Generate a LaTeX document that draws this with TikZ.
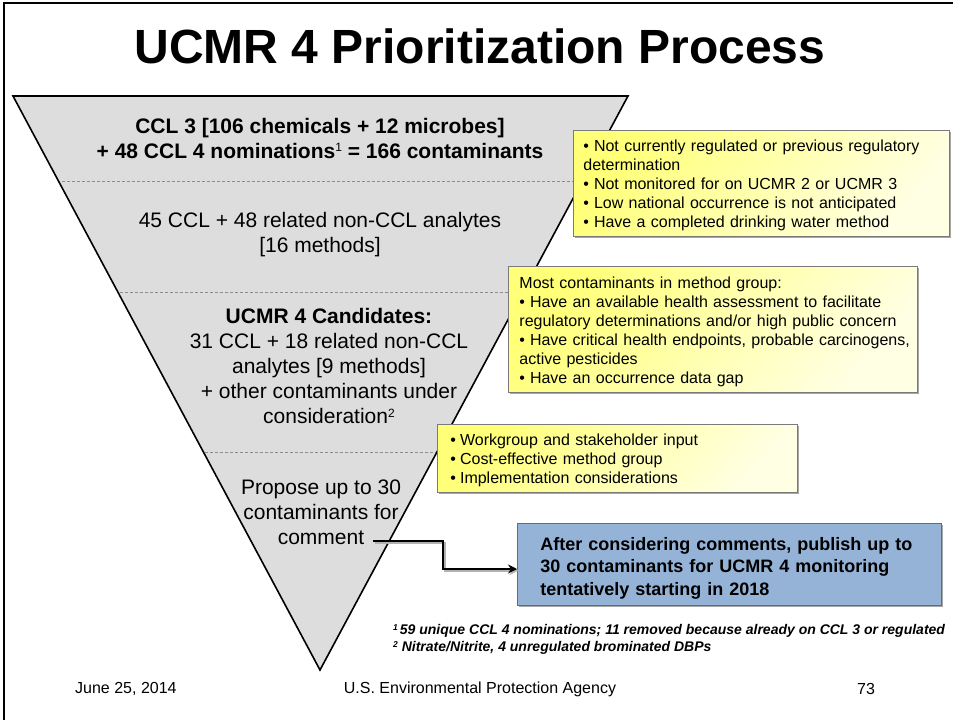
\documentclass[tikz,border=0pt]{standalone}
\usepackage{fontspec}
\setmainfont{Liberation Sans}
\usetikzlibrary{shadows,arrows.meta}
\definecolor{funnelgray}{HTML}{DDDDDD}
\definecolor{dashgray}{HTML}{8C8C8C}
\definecolor{ytop}{HTML}{FFFF78}
\definecolor{ybot}{HTML}{FFFFE4}
\definecolor{yborder}{HTML}{7A7A7A}
\definecolor{bluefill}{HTML}{95B3D7}
\definecolor{blueborder}{HTML}{5A6E8C}
\tikzset{
  maintext/.style={font=\fontsize{21}{25}\selectfont, align=center, inner sep=0pt},
  notebox/.style={draw=yborder, line width=0.9pt, top color=ytop, bottom color=ybot, shading angle=50,
    drop shadow={shadow xshift=2pt, shadow yshift=-2pt, opacity=0.35, fill=black},
    anchor=north west, align=left, font=\fontsize{16}{19}\selectfont, inner sep=0pt},
  resultbox/.style={draw=blueborder, line width=0.9pt, fill=bluefill,
    drop shadow={shadow xshift=2pt, shadow yshift=-2pt, opacity=0.35, fill=black},
    anchor=north west, align=left, font=\bfseries\fontsize{18}{22.5}\selectfont, inner sep=0pt},
  divider/.style={draw=dashgray, line width=0.8pt, dash pattern=on 3pt off 2pt},
  conn/.style={line width=2pt, -{Stealth[length=9pt,width=9pt,inset=3pt]}},
  connshadow/.style={line width=2pt, draw=black!30, -{Stealth[length=9pt,width=9pt,inset=3pt]}},
  footnote/.style={font=\bfseries\itshape\fontsize{14}{17}\selectfont, anchor=west, inner sep=0pt},
  footer/.style={font=\fontsize{16}{19}\selectfont, inner sep=0pt}
}
\newcommand{\bul}{\textbullet\hspace{5pt}}
\newcommand{\supbig}[1]{\raisebox{6.5pt}{\fontsize{12}{12}\selectfont\mdseries #1}}
\newcommand{\supsmall}[1]{\raisebox{4.5pt}{\fontsize{8.5}{8.5}\selectfont #1}}
\begin{document}
\begin{tikzpicture}[x=1pt,y=-1pt]
\useasboundingbox (0,0) rectangle (953,720);
\fill[white] (0,0) rectangle (953,720);
% frame
\draw[line width=2pt] (3.5,720) -- (3.5,2.5) -- (953,2.5);
% title
\node[font=\bfseries\fontsize{48}{56}\selectfont, inner sep=0pt] (title) at (480,46) {UCMR 4 Prioritization Process};
% funnel
\coordinate (fl) at (13,96);
\coordinate (fr) at (628,96);
\coordinate (fa) at (320,670);
\fill[funnelgray] (fl) -- (fr) -- (fa) -- cycle;
\draw[divider] (62,181) -- (580,181);
\draw[divider] (120,292) -- (521,292);
\draw[divider] (205,452) -- (436,452);
\draw[line width=1.6pt, line join=miter] (fl) -- (fr) -- (fa) -- cycle;
% funnel texts
\node[maintext, font=\bfseries\fontsize{21}{25}\selectfont] (ccl3) at (320,138)
  {CCL 3 [106 chemicals + 12 microbes]\\+ 48 CCL 4 nominations\supbig{1} = 166 contaminants};
\node[maintext] (ccl45) at (320,235) {45 CCL + 48 related non-CCL analytes\\{}[16 methods]};
\node[maintext] (cand) at (329,366) {\textbf{UCMR 4 Candidates:}\\31 CCL + 18 related non-CCL\\analytes [9 methods]\\+ other contaminants under\\consideration\supbig{2}};
\node[maintext] (propose) at (321,512) {Propose up to 30\\contaminants for\\comment};
% notes
\node[notebox, minimum width=376pt, minimum height=106pt, text width=376pt] (note1) at (573,130)
  {\hspace{10pt}\parbox[t]{362pt}{\raggedright\vspace{3pt}\bul Not currently regulated or previous regulatory\\determination\\\bul Not monitored for on UCMR 2 or UCMR 3\\\bul Low national occurrence is not anticipated\\\bul Have a completed drinking water method}};
\node[notebox, minimum width=409pt, minimum height=126pt, text width=409pt] (note2) at (508,266)
  {\hspace{11pt}\parbox[t]{396pt}{\raggedright\vspace{5pt}Most contaminants in method group:\\\bul Have an available health assessment to facilitate\\regulatory determinations and/or high public concern\\\bul Have critical health endpoints, probable carcinogens,\\active pesticides\\\bul Have an occurrence data gap}};
\node[notebox, minimum width=360pt, minimum height=68pt, text width=360pt] (note3) at (437,424)
  {\hspace{13pt}\parbox[t]{345pt}{\raggedright\vspace{3pt}\textbullet\hspace{4pt}Workgroup and stakeholder input\\\textbullet\hspace{4pt}Cost-effective method group\\\textbullet\hspace{4pt}Implementation considerations}};
\node[resultbox, minimum width=424pt, minimum height=82pt, text width=424pt] (result) at (517,523)
  {\hspace{23pt}\parbox[t]{400pt}{\raggedright\vspace{7pt}After considering comments, publish up to\\30 contaminants for UCMR 4 monitoring\\tentatively starting in 2018}};
% connector
\coordinate (cstart) at (373,541);
\coordinate (bend) at (443,569);
\draw[connshadow, transform canvas={shift={(1.5pt,-1.5pt)}}] (cstart) -| (bend) -- (bend -| result.west);
\draw[conn] (cstart) -| (bend) -- (bend -| result.west);
% footnotes
\node[footnote] (fn1) at (393,631) {\supsmall{1}\hspace{2pt}59 unique CCL 4 nominations; 11 removed because already on CCL 3 or regulated};
\node[footnote] (fn2) at (393,648) {\supsmall{2} Nitrate/Nitrite, 4 unregulated brominated DBPs};
% footer
\node[footer, anchor=west] (date) at (75,689) {June 25, 2014};
\node[footer] (agency) at (480,689) {U.S. Environmental Protection Agency};
\node[footer] (page) at (866,689) {73};
\end{tikzpicture}
\end{document}
